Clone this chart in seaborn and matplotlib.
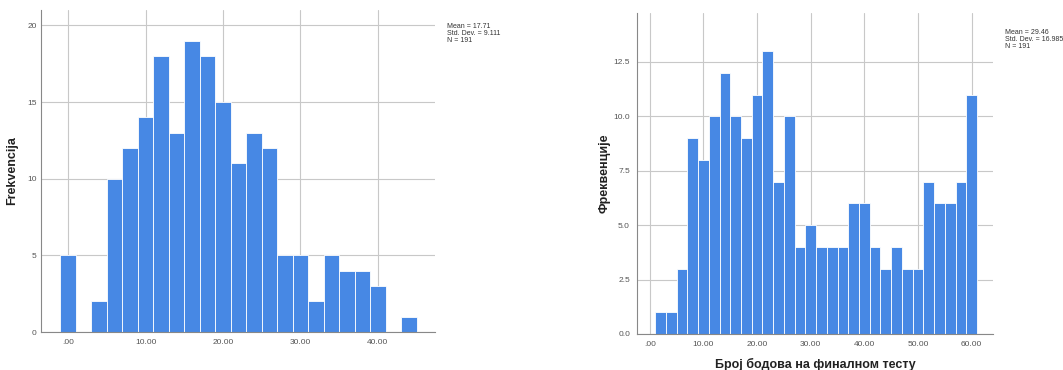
import matplotlib
matplotlib.use("Agg")
import matplotlib.pyplot as plt
import seaborn as sns
import numpy as np

# ---- data (bin centres and counts) ----
left_centers = [0, 2, 4, 6, 8, 10, 12, 14, 16, 18, 20, 22, 24, 26, 28, 30, 32, 34, 36, 38, 40, 42, 44]
left_counts = [5, 0, 2, 10, 12, 14, 18, 13, 19, 18, 15, 11, 13, 12, 5, 5, 2, 5, 4, 4, 3, 0, 1]
left_xticks = [0, 10, 20, 30, 40]
left_xticklabels = [".00", "10.00", "20.00", "30.00", "40.00"]
left_yticks = [0, 5, 10, 15, 20]
left_yticklabels = ["0", "5", "10", "15", "20"]
left_stats = "Mean = 17.71\nStd. Dev. = 9.111\nN = 191"
left_ylabel = "Frekvencija"

right_centers = [2, 4, 6, 8, 10, 12, 14, 16, 18, 20, 22, 24, 26, 28, 30, 32, 34, 36, 38, 40,
                 42, 44, 46, 48, 50, 52, 54, 56, 58, 60]
right_counts = [1, 1, 3, 9, 8, 10, 12, 10, 9, 11, 13, 7, 10, 4, 5, 4, 4, 4, 6, 6,
                4, 3, 4, 3, 3, 7, 6, 6, 7, 11]
right_xticks = [0, 10, 20, 30, 40, 50, 60]
right_xticklabels = [".00", "10.00", "20.00", "30.00", "40.00", "50.00", "60.00"]
right_yticks = [0, 2.5, 5, 7.5, 10, 12.5]
right_yticklabels = ["0.0", "2.5", "5.0", "7.5", "10.0", "12.5"]
right_stats = "Mean = 29.46\nStd. Dev. = 16.985\nN = 191"
right_ylabel = "Фреквенције"
right_xlabel = "Број бодова на финалном тесту"

sns.set_theme(style="white")
plt.rcParams['font.family'] = ['Liberation Sans', 'DejaVu Sans']

BAR = "#4788E4"
GRID = "#c8c8c8"
TICKC = "#555555"

fig = plt.figure(figsize=(10.63, 3.70), dpi=100)
axL = fig.add_axes([0.0386, 0.1027, 0.3707, 0.870])
axR = fig.add_axes([0.5992, 0.0973, 0.335, 0.8676])


def draw(ax, centers, counts, xlim, ylim, xticks, xtl, yticks, ytl, ypad):
    ax.set_axisbelow(True)
    sns.histplot(x=centers, weights=counts, binwidth=2,
                 binrange=(min(centers) - 1, max(centers) + 1),
                 color=BAR, alpha=1.0, edgecolor="white", linewidth=0.6, ax=ax)
    ax.set_xlim(*xlim)
    ax.set_ylim(*ylim)
    ax.set_xticks(xticks)
    ax.set_xticklabels(xtl)
    ax.set_yticks(yticks)
    ax.set_yticklabels(ytl)
    ax.grid(True, color=GRID, linewidth=0.8)
    for s in ["top", "right"]:
        ax.spines[s].set_visible(False)
    for s in ["left", "bottom"]:
        ax.spines[s].set_color("#888888")
        ax.spines[s].set_linewidth(0.8)
    ax.tick_params(axis="x", labelsize=6, colors=TICKC, length=0, pad=5)
    ax.tick_params(axis="y", labelsize=6, colors=TICKC, length=0, pad=ypad)
    ax.set_xlabel("")


draw(axL, left_centers, left_counts, (-3.5, 47.4), (0, 21),
     left_xticks, left_xticklabels, left_yticks, left_yticklabels, 3)
draw(axR, right_centers, right_counts, (-2.4, 64), (0, 14.75),
     right_xticks, right_xticklabels, right_yticks, right_yticklabels, 5)

axL.set_ylabel(left_ylabel, fontsize=9, fontweight="bold", color="#222222")
axL.yaxis.set_label_coords(-0.058, 0.5)
axR.set_ylabel(right_ylabel, fontsize=9, fontweight="bold", color="#222222")
axR.yaxis.set_label_coords(-0.075, 0.5)
axR.set_xlabel(right_xlabel, fontsize=9, fontweight="bold", color="#222222", va="center")
axR.xaxis.set_label_coords(0.5, -0.094)

fig.text(447 / 1063, 1 - 23 / 370, left_stats, fontsize=5, va="top", ha="left",
         color="#333333", linespacing=1.0)
fig.text(1005 / 1063, 1 - 29 / 370, right_stats, fontsize=5, va="top", ha="left",
         color="#333333", linespacing=1.0)

fig.savefig("out.png", dpi=100)
